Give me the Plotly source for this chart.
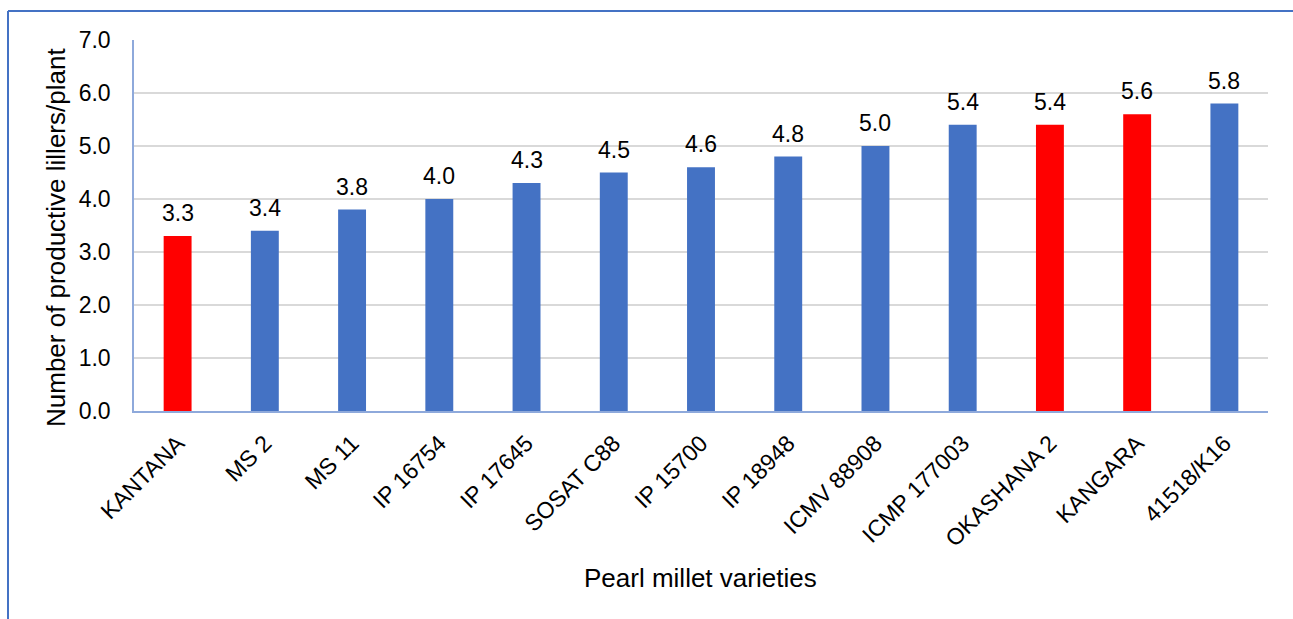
import plotly.graph_objects as go

varieties = ["KANTANA", "MS 2", "MS 11", "IP 16754", "IP 17645", "SOSAT C88",
             "IP 15700", "IP 18948", "ICMV 88908", "ICMP 177003", "OKASHANA 2",
             "KANGARA", "41518/K16"]
tillers = [3.3, 3.4, 3.8, 4.0, 4.3, 4.5, 4.6, 4.8, 5.0, 5.4, 5.4, 5.6, 5.8]
highlighted = ["KANTANA", "OKASHANA 2", "KANGARA"]
y_ticks = [0, 1, 2, 3, 4, 5, 6, 7]

BLUE = "#4472C4"
RED = "#FF0000"
FONT = "Liberation Sans, Arial, sans-serif"

colors = [RED if v in highlighted else BLUE for v in varieties]

fig = go.Figure(go.Bar(
    x=varieties, y=tillers, marker=dict(color=colors, line=dict(width=0)),
    hoverinfo="x+y",
))

# value labels above each bar
for v, t in zip(varieties, tillers):
    fig.add_annotation(x=v, y=t, text=f"{t:.1f}", showarrow=False,
                       yanchor="bottom", yshift=8,
                       font=dict(family=FONT, size=23, color="#000000"))

W, H = 1293, 619
L, R, T, B = 134, 25, 40, 208
pw, ph = W - L - R, H - T - B

# axis titles
fig.add_annotation(text="Pearl millet varieties", xref="paper", yref="paper",
                   x=(700 - L) / pw, y=(H - B - 578) / ph, showarrow=False,
                   xanchor="center", yanchor="middle",
                   font=dict(family=FONT, size=26, color="#000000"))
fig.add_annotation(text="Number of productive lillers/plant", xref="paper", yref="paper",
                   x=(56 - L) / pw, y=(H - B - 238) / ph, showarrow=False,
                   textangle=-90, xanchor="center", yanchor="middle",
                   font=dict(family=FONT, size=26, color="#000000"))

# outer frame (left and top edges visible)
fx0 = (8 - L) / pw
fy1 = 1 + (T - 11) / ph
fig.add_shape(type="line", xref="paper", yref="paper", x0=fx0, x1=fx0,
              y0=fy1, y1=-1, line=dict(color=BLUE, width=2))
fig.add_shape(type="line", xref="paper", yref="paper", x0=fx0, x1=2,
              y0=fy1, y1=fy1, line=dict(color=BLUE, width=2))

fig.update_layout(
    width=W, height=H,
    margin=dict(l=L, r=R, t=T, b=B),
    paper_bgcolor="white", plot_bgcolor="white",
    bargap=0.68,
    showlegend=False,
    font=dict(family=FONT, color="#000000"),
    xaxis=dict(
        tickangle=-45, tickfont=dict(size=23), automargin=False,
        ticks="outside", ticklen=8, tickcolor="rgba(0,0,0,0)",
        showline=True, linecolor="#8EA9DB", linewidth=1.5,
    ),
    yaxis=dict(
        range=[0, 7], tickvals=y_ticks, tickformat=".1f",
        tickfont=dict(size=23), automargin=False,
        ticks="outside", ticklen=17, tickcolor="rgba(0,0,0,0)",
        showgrid=True, gridcolor="#D9D9D9", gridwidth=1.5,
        showline=True, linecolor="#8EA9DB", linewidth=1.5,
        zeroline=False,
    ),
)

fig.write_html("out.html")
